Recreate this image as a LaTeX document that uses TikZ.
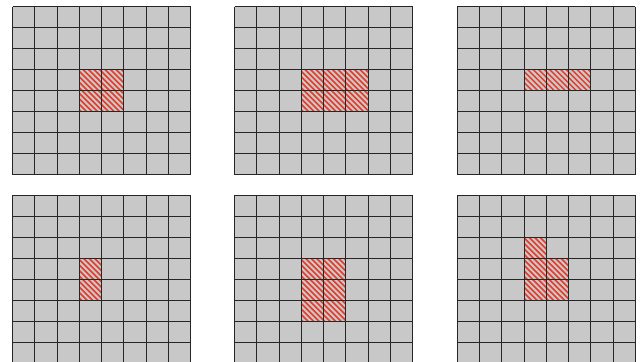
\documentclass[tikz,border=0pt]{standalone}
\begin{document}
\begin{tikzpicture}[x=1pt,y=-1pt]
\definecolor{cellgray}{RGB}{200,200,200}
\definecolor{hred}{RGB}{232,58,40}
\tikzset{
  gridline/.style={draw=black!85, line width=1pt},
  hatchline/.style={draw=hred, line width=1.5pt},
}
\newcommand\hatchgrid[3]{%
  \begin{scope}[shift={(#1,#2)}]
    \fill[cellgray] (0,0) rectangle (178,168);
    \begin{scope}
      \path[clip] \foreach \c/\r in {#3} {(\c*22.25,\r*21) rectangle ++(22.25,21)};
      \foreach \k in {-32,...,33} \draw[hatchline] (\k*5.5,-2) -- ++(172,172);
    \end{scope}
    \foreach \i in {0,...,8} \draw[gridline] (\i*22.25,0) -- (\i*22.25,168);
    \foreach \j in {0,...,8} \draw[gridline] (0,\j*21) -- (178,\j*21);
  \end{scope}}
\useasboundingbox (0,0) rectangle (641,362);
\hatchgrid{12.7}{6.7}{3/3,4/3,3/4,4/4}
\hatchgrid{234.7}{6.7}{3/3,4/3,5/3,3/4,4/4,5/4}
\hatchgrid{457.3}{6.7}{3/3,4/3,5/3}
\hatchgrid{12.7}{195}{3/3,3/4}
\hatchgrid{234.7}{195}{3/3,4/3,3/4,4/4,3/5,4/5}
\hatchgrid{457.3}{195}{3/2,3/3,4/3,3/4,4/4}
\end{tikzpicture}
\end{document}
